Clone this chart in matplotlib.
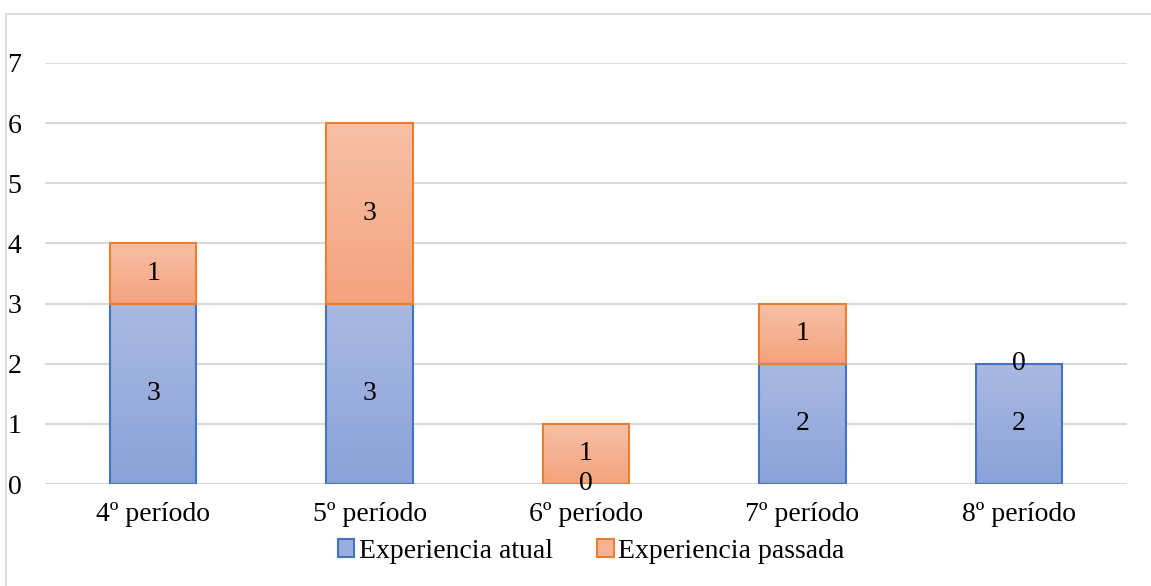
import numpy as np
import matplotlib.pyplot as plt
from matplotlib.patches import Rectangle
from matplotlib.colors import LinearSegmentedColormap

periodos = ["4º período", "5º período", "6º período", "7º período", "8º período"]
atual = [3, 3, 0, 2, 2]
passada = [1, 3, 1, 1, 0]

plt.rcParams["font.family"] = ["Liberation Serif", "DejaVu Serif"]
FS = 20

fig = plt.figure(figsize=(11.51, 5.86), dpi=100)
ax = fig.add_axes([45 / 1151, 1 - 484 / 586, 1082 / 1151, 421 / 586])

# light frame around the chart area
fig.patches.append(Rectangle((6 / 1151, -0.1), 1.2, 1 - 14 / 586 + 0.1,
                             transform=fig.transFigure, fill=False,
                             edgecolor="#d9d9d9", linewidth=1.2, zorder=0))

x = np.arange(len(periodos))
largura = 0.4

bars_atual = ax.bar(x, atual, largura, facecolor="none", edgecolor="#4472c4",
                    linewidth=1.5, zorder=3, label="Experiencia atual")
bars_passada = ax.bar(x, passada, largura, bottom=atual, facecolor="none",
                      edgecolor="#ed7d31", linewidth=1.5, zorder=3,
                      label="Experiencia passada")

cmap_azul = LinearSegmentedColormap.from_list("azul", ["#8aa2d9", "#aab9e1"])
cmap_laranja = LinearSegmentedColormap.from_list("laranja", ["#f4a37d", "#f7c0a7"])
grad = np.linspace(0, 1, 256).reshape(-1, 1)

# vertical gradient fill inside every bar segment
for bars, cmap in [(bars_atual, cmap_azul), (bars_passada, cmap_laranja)]:
    for p in bars:
        h = p.get_height()
        if h == 0:
            p.set_visible(False)
            continue
        x0, y0 = p.get_x(), p.get_y()
        im = ax.imshow(grad, cmap=cmap, origin="lower", aspect="auto",
                       extent=(x0, x0 + p.get_width(), y0, y0 + h), zorder=2)
        im.set_clip_path(p)

ax.set_xlim(-0.5, len(periodos) - 0.5)
ax.set_ylim(0, 7)

for i in range(len(periodos)):
    ax.text(x[i], atual[i] / 2, str(atual[i]), ha="center", va="center",
            fontsize=FS, zorder=4)
    ax.text(x[i], atual[i] + passada[i] / 2, str(passada[i]), ha="center",
            va="center", fontsize=FS, zorder=4)

ax.set_yticks(range(0, 8))
ax.set_xticks(x)
ax.set_xticklabels(periodos)
ax.tick_params(axis="both", length=0, labelsize=FS)
ax.tick_params(axis="y", pad=17)
ax.tick_params(axis="x", pad=13)

ax.grid(axis="y", color="#d9d9d9", linewidth=1.5, zorder=0)
for s in ax.spines.values():
    s.set_visible(False)
ax.set_facecolor("none")

handles = [Rectangle((0, 0), 1, 1, facecolor="#9aaedd", edgecolor="#4472c4", linewidth=1.5),
           Rectangle((0, 0), 1, 1, facecolor="#f6b396", edgecolor="#ed7d31", linewidth=1.5)]
fig.legend(handles, ["Experiencia atual", "Experiencia passada"], loc="center",
           bbox_to_anchor=(591 / 1151, 1 - 551 / 586), ncol=2, frameon=False,
           fontsize=FS, handlelength=0.6, handleheight=0.6, handletextpad=0.15,
           columnspacing=1.6)

fig.savefig("out.png", dpi=100)
